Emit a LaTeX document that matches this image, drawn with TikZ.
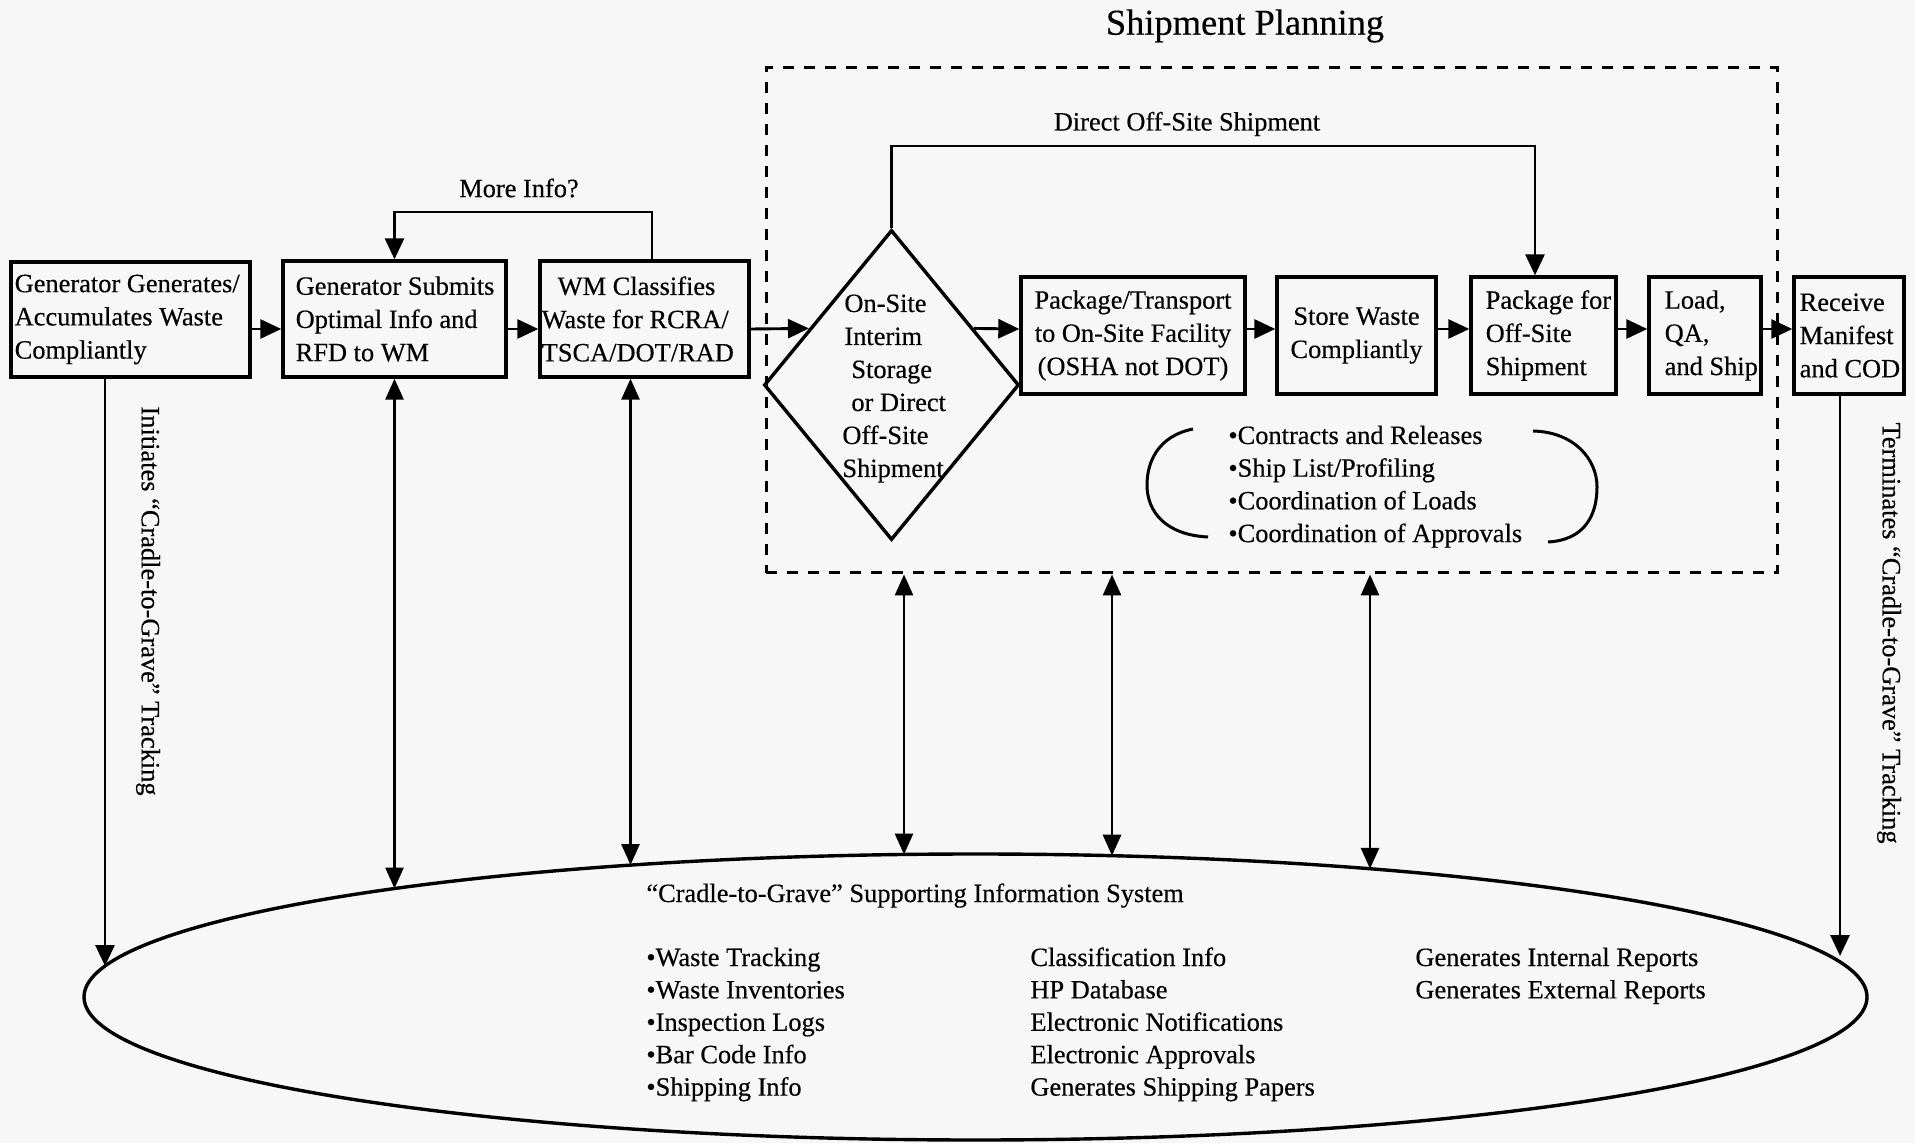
\documentclass[tikz,border=0pt]{standalone}
\usepackage{fontspec}
\setmainfont{Liberation Serif}[FakeBold=0.35]
\usetikzlibrary{arrows.meta,shapes.geometric,calc}
\definecolor{paper}{RGB}{247,247,247}
\begin{document}
\begin{tikzpicture}[x=0.5pt,y=-0.5pt,
  every node/.style={font=\fontsize{13.2pt}{16.6pt}\selectfont, inner sep=0pt},
  box/.style={draw, rectangle, line width=1.7pt, inner sep=0pt},
  arr/.style={line width=1.45pt, -{Triangle[length=10.5pt,width=9.5pt]}},
  darr/.style={line width=1.45pt, {Triangle[length=10.5pt,width=9pt]}-{Triangle[length=10.5pt,width=9pt]}},
  bracket/.style={line width=1.5pt},
  lbl/.style={anchor=base west}
]
% paper and page frame
\fill[paper] (0,0) rectangle (1915,1143);
\useasboundingbox (0,0) rectangle (1915,1143);

% helper coordinates
\coordinate (flow) at (0,329);
\coordinate (more) at (652,212);
\coordinate (dright) at (1535,146);

% shipment planning frame
\node[draw, rectangle, line width=1.5pt, dash pattern=on 5.5pt off 5pt,
      minimum width=505.5pt, minimum height=252.5pt] (ship) at (1271.5,320.5) {};
\node[font=\fontsize{18.2pt}{22pt}\selectfont] (title) at (1245,26) {Shipment Planning};
\node (direct) at (1187,124) {Direct Off-Site Shipment};

% process boxes
\node[box, minimum width=119.5pt, minimum height=57.5pt] (b1) at (130.5,319.5) {};
\node[anchor=west, align=left] (t1) at ([xshift=2.5pt]b1.west) {Generator Generates/\\Accumulates Waste\\Compliantly};

\node[box, minimum width=111.5pt, minimum height=58pt] (b2) at (394.5,319) {};
\node[anchor=west, align=left] (t2) at ([xshift=7pt]b2.west) {Generator Submits\\Optimal Info and\\RFD to WM};

\node[box, minimum width=104.5pt, minimum height=58pt] (b3) at (644.5,319) {};
\node[anchor=west, align=left] (t3) at ([xshift=1.5pt]b3.west) {\hspace*{8pt}WM Classifies\\Waste for RCRA/\\TSCA/DOT/RAD};

\node[draw, diamond, line width=1.7pt, minimum width=127.5pt, minimum height=155pt] (dia) at (891.5,385) {};
\foreach \ln/\dx [count=\i from 0] in {On-Site/844, Interim/844, Storage/851, or Direct/851, Off-Site/842, Shipment/842}
  \node[lbl] (dt\i) at (\dx,{312+33*\i}) {\ln};

\node[box, minimum width=112pt, minimum height=58.5pt, align=center] (b4) at (1133,335.5)
  {Package/Transport\\to On-Site Facility\\(OSHA not DOT)};
\node[box, minimum width=79.5pt, minimum height=58.5pt, align=center] (b5) at (1356.5,335.5)
  {Store Waste\\Compliantly};
\node[box, minimum width=72.5pt, minimum height=58.5pt] (b6) at (1543.5,335.5) {};
\node[anchor=west, align=left] (t6) at ([xshift=8pt]b6.west) {Package for\\Off-Site\\Shipment};
\node[box, minimum width=56pt, minimum height=58.5pt] (b7) at (1705,335.5) {};
\node[anchor=west, align=left] (t7) at ([xshift=8.5pt]b7.west) {Load,\\QA,\\and Ship};
\node[box, minimum width=55pt, minimum height=58.5pt] (b8) at (1849,335.5) {};
\node[anchor=west, align=left] (t8) at ([xshift=3.5pt]b8.west) {Receive\\Manifest\\and COD};

% planning activities in brackets
\foreach \ln [count=\i from 0] in {•Contracts and Releases, •Ship List/Profiling, •Coordination of Loads, •Coordination of Approvals}
  \node[lbl] (pa\i) at (1228,{444+32.7*\i}) {\ln};
\draw[bracket] (1193,429) .. controls (1158,436) and (1147,462) .. (1147,485)
               .. controls (1147,512) and (1166,535) .. (1208,537);
\draw[bracket] (1533,431) .. controls (1574,432) and (1597,459) .. (1597,487)
               .. controls (1597,516) and (1584,540) .. (1548,542);

% information system
\node[draw, ellipse, line width=1.7pt, minimum width=891.5pt, minimum height=143pt] (ell) at (975.5,997) {};
\node[lbl] (cgtitle) at (646,902) {“Cradle-to-Grave” Supporting Information System};
\foreach \ln [count=\i from 0] in {•Waste Tracking, •Waste Inventories, •Inspection Logs, •Bar Code Info, •Shipping Info}
  \node[lbl] (ca\i) at (646,{966+32.4*\i}) {\ln};
\foreach \ln [count=\i from 0] in {Classification Info, HP Database, Electronic Notifications, Electronic Approvals, Generates Shipping Papers}
  \node[lbl] (cb\i) at (1030,{966+32.4*\i}) {\ln};
\foreach \ln [count=\i from 0] in {Generates Internal Reports, Generates External Reports}
  \node[lbl] (cc\i) at (1415,{966+32.4*\i}) {\ln};

% points on the ellipse border
\coordinate (e1) at (105,966);
\coordinate (e2) at (394.5,888.5);
\coordinate (e3) at (630.5,865);
\coordinate (e4) at (904,854.5);
\coordinate (e5) at (1112,855.7);
\coordinate (e6) at (1370,868.8);
\coordinate (e7) at (1840,956);

% tracking labels
\node[rotate=-90] (init) at (148,601) {Initiates “Cradle-to-Grave” Tracking};
\node[rotate=-90] (term) at (1889,633) {Terminates “Cradle-to-Grave” Tracking};
\node (moreinfo) at (519,188) {More Info?};

% main flow
\draw[arr] (b1.east |- flow) -- (b2.west |- flow);
\draw[arr] (b2.east |- flow) -- (b3.west |- flow);
\draw[arr] (b3.east |- flow) -- ($(dia.west)!0.361!(dia.north)$);
\draw[arr] ($(dia.east)!0.361!(dia.north)$) -- (b4.west |- flow);
\draw[arr] (b4.east |- flow) -- (b5.west |- flow);
\draw[arr] (b5.east |- flow) -- (b6.west |- flow);
\draw[arr] (b6.east |- flow) -- (b7.west |- flow);
\draw[arr] (b7.east |- flow) -- (b8.west |- flow);

% feedback and bypass
\draw[arr] (b3.north -| more) -- (more) -| (b2.north);
\draw[arr] (dia.north) |- (dright) -- (b6.north -| dright);

% links to the information system
\draw[arr] (b1.south -| e1) -- (e1);
\draw[darr] (b2.south -| e2) -- (e2);
\draw[darr] (b3.south -| e3) -- (e3);
\draw[darr] (ship.south -| e4) -- (e4);
\draw[darr] (ship.south -| e5) -- (e5);
\draw[darr] (ship.south -| e6) -- (e6);
\draw[arr] (b8.south -| e7) -- (e7);
\end{tikzpicture}
\end{document}
